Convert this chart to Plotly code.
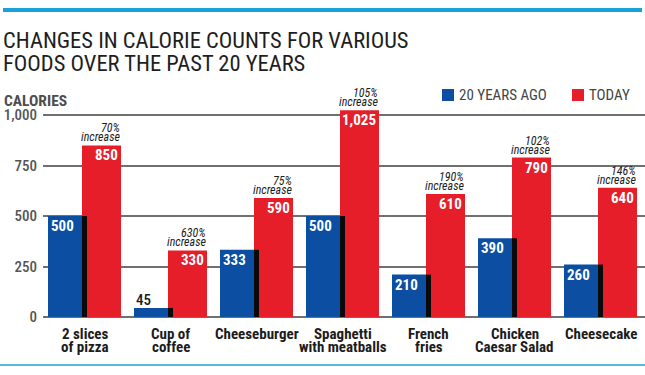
import plotly.graph_objects as go

# ---------------- data ----------------
categories = ["2 slices<br>of pizza", "Cup of<br>coffee", "Cheeseburger",
              "Spaghetti<br>with meatballs", "French<br>fries",
              "Chicken<br>Caesar Salad", "Cheesecake"]
calories_20_years_ago = [500, 45, 333, 500, 210, 390, 260]
calories_today = [850, 330, 590, 1025, 610, 790, 640]
increase_labels = ["70%", "630%", "75%", "105%", "190%", "102%", "146%"]
series_names = ["20 YEARS AGO", "TODAY"]
y_ticks = [0, 250, 500, 750, 1000]
title_lines = ["CHANGES IN CALORIE COUNTS FOR VARIOUS", "FOODS OVER THE PAST 20 YEARS"]
y_axis_title = "CALORIES"

# ---------------- style ----------------
W, H = 645, 375
ML, MR, MT, MB = 43, 0, 95, 58
PW, PH = W - ML - MR, H - MT - MB
SP = 86.0  # px per category
BLUE = "#0b4ea2"
RED = "#e61e2a"
SHADOW = "#0a0a0a"
DARK = "#1c1c1c"
GRAY = "#555555"
FONT = "Roboto Condensed, DejaVu Sans Condensed, sans-serif"

blue_off, blue_w = -36.5 / SP, 34 / SP
red_off, red_w = -2.5 / SP, 39 / SP
sh_off, sh_w = -2.5 / SP, 5 / SP
x_lo = -(84.5 - ML) / SP
x_hi = x_lo + PW / SP


def pxx(p):
    return (p - ML) / PW


def pxy(p):
    return (H - MB - p) / PH


idx = list(range(len(categories)))

fig = go.Figure()
fig.add_trace(go.Bar(x=idx, y=calories_20_years_ago, offset=blue_off, width=blue_w,
                     marker=dict(color=BLUE, line=dict(width=0)), name=series_names[0],
                     showlegend=False))
fig.add_trace(go.Bar(x=idx, y=calories_today, offset=red_off, width=red_w,
                     marker=dict(color=RED, line=dict(width=0)), name=series_names[1],
                     showlegend=False))
fig.add_trace(go.Bar(x=idx, y=calories_20_years_ago, offset=sh_off, width=sh_w,
                     marker=dict(color=SHADOW, line=dict(width=0)), showlegend=False,
                     hoverinfo="skip"))

ann = []
for i, (a, t, inc, cat) in enumerate(zip(calories_20_years_ago, calories_today,
                                         increase_labels, categories)):
    # today value inside red bar
    ann.append(dict(x=i + red_off + red_w - 2 / SP, y=t, xref="x", yref="y",
                    text=f"{t:,}", showarrow=False, xanchor="right", yanchor="top",
                    yshift=0, borderpad=0,
                    font=dict(family=FONT, size=15, color="white", weight=700)))
    # past value
    if a >= 100:
        ann.append(dict(x=i + blue_off + 2 / SP, y=a, xref="x", yref="y",
                        text=f"{a:,}", showarrow=False, xanchor="left", yanchor="top",
                        yshift=0, borderpad=0,
                        font=dict(family=FONT, size=15, color="white", weight=700)))
    else:
        ann.append(dict(x=i + blue_off + 1 / SP, y=a, xref="x", yref="y",
                        text=f"{a:,}", showarrow=False, xanchor="left", yanchor="bottom",
                        yshift=-2, borderpad=0,
                        font=dict(family=FONT, size=15, color=DARK, weight=500)))
    # increase labels
    ann.append(dict(x=i + red_off + red_w, y=t, xref="x", yref="y", text="increase",
                    showarrow=False, xanchor="right", yanchor="bottom", yshift=0,
                    borderpad=0,
                    font=dict(family=FONT, size=12, color=DARK, style="italic")))
    ann.append(dict(x=i + red_off + red_w, y=t, xref="x", yref="y", text=inc,
                    showarrow=False, xanchor="right", yanchor="bottom", yshift=9,
                    borderpad=0,
                    font=dict(family=FONT, size=12, color=DARK, style="italic")))
    # category labels
    for k, line in enumerate(cat.split("<br>")):
        ann.append(dict(x=i, y=0, xref="x", yref="y", text=line, showarrow=False,
                        xanchor="center", yanchor="top", yshift=-7 - 12.5 * k, borderpad=0,
                        font=dict(family=FONT, size=15, color=DARK, weight=700)))

# title lines
for k, line in enumerate(title_lines):
    ann.append(dict(x=pxx(2), y=pxy(54.5 + 22.5 * k), xref="paper", yref="paper", text=line,
                    showarrow=False, xanchor="left", yanchor="bottom", borderpad=0,
                    font=dict(family=FONT, size=22.5, color="#1e1e1e", weight=400)))
# axis title
ann.append(dict(x=pxx(3), y=pxy(111), xref="paper", yref="paper", text=y_axis_title,
                showarrow=False, xanchor="left", yanchor="bottom", borderpad=0,
                font=dict(family=FONT, size=15.5, color="#4d4d4d", weight=700)))
# legend
legend_items = [(series_names[0], BLUE, 442), (series_names[1], RED, 572)]
shapes = []
for name, col, x0 in legend_items:
    shapes.append(dict(type="rect", xref="paper", yref="paper", x0=pxx(x0), x1=pxx(x0 + 12),
                       y0=pxy(101), y1=pxy(89), fillcolor=col, line=dict(width=0)))
    ann.append(dict(x=pxx(x0 + 16), y=pxy(95), xref="paper", yref="paper", text=name,
                    showarrow=False, xanchor="left", yanchor="middle", borderpad=0,
                    font=dict(family=FONT, size=15, color="#444444")))

# decorative rules
shapes.append(dict(type="line", xref="paper", yref="paper", x0=pxx(3), x1=pxx(642),
                   y0=pxy(10), y1=pxy(10), line=dict(color="#1ca0db", width=4)))
shapes.append(dict(type="line", xref="paper", yref="paper", x0=pxx(0), x1=pxx(645),
                   y0=pxy(365), y1=pxy(365), line=dict(color="#55b9e0", width=2)))

fig.update_layout(
    width=W, height=H, autosize=False,
    margin=dict(l=ML, r=MR, t=MT, b=MB, pad=0),
    paper_bgcolor="white", plot_bgcolor="white",
    barmode="overlay", showlegend=False,
    annotations=ann, shapes=shapes,
    xaxis=dict(range=[x_lo, x_hi], showticklabels=False, showgrid=False,
               zeroline=False, showline=False, ticks=""),
    yaxis=dict(range=[0, 1100], tickvals=y_ticks, tickformat=",", showgrid=True,
               gridcolor="#707070", gridwidth=1.5, zeroline=True, zerolinecolor="#707070",
               zerolinewidth=1.5, showline=False, ticks="", ticklabelstandoff=5,
               tickfont=dict(family=FONT, size=15, color=GRAY, weight=500)),
)

fig.write_html("out.html", config={"displayModeBar": False},
               post_script="document.body.style.margin='0';")
